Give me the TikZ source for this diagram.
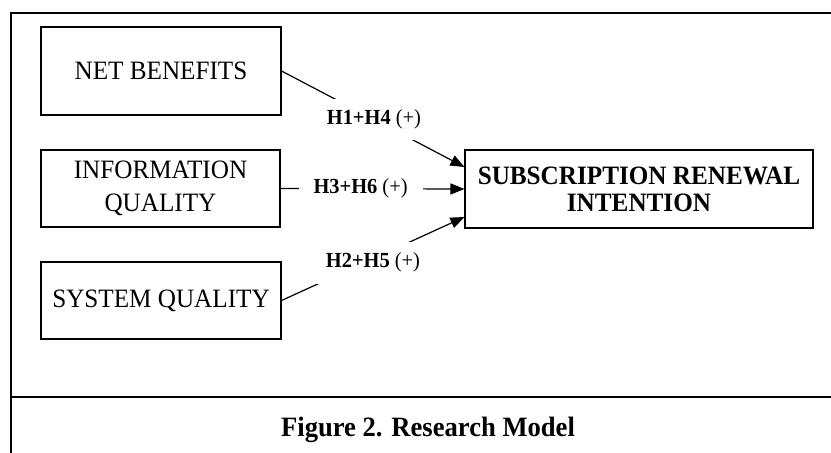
\documentclass[tikz,border=0pt]{standalone}
\usepackage{fontspec}
\setmainfont{Liberation Serif}[FakeStretch=0.95]
\usetikzlibrary{arrows.meta,calc}
\begin{document}
\begin{tikzpicture}[x=1pt,y=-1pt,
  frame/.style={line width=1.9pt},
  box/.style={draw, line width=1.1pt, inner sep=0pt, align=center,
    font=\fontsize{26.5}{33}\selectfont},
  hyp/.style={fill=white, inner xsep=15pt, inner ysep=11pt,
    font=\fontsize{21.5}{24}\selectfont},
  link/.style={line width=1.2pt},
  arrowlink/.style={link, -{Triangle[length=14pt,width=11pt]}}]
  \useasboundingbox (0,0) rectangle (831,453);

  % outer frame and caption separator
  \draw[frame] (11,460) -- (11,13) -- (840,13);
  \draw[frame] (11,397) -- (840,397);

  % constructs
  \node[box, minimum width=240pt, minimum height=88pt] (nb) at (161,71) {NET BENEFITS};
  \node[box, minimum width=239pt, minimum height=77pt] (iq) at (160.5,188.5) {INFORMATION\\QUALITY};
  \node[box, minimum width=240pt, minimum height=77pt] (sq) at (161,300.5) {SYSTEM QUALITY};
  \node[box, minimum width=348pt, minimum height=78pt,
    font=\fontsize{26.5}{27}\selectfont\bfseries] (sr) at (639,189) {SUBSCRIPTION RENEWAL\\INTENTION};

  % arrow end points on the outcome box
  \coordinate (srA) at ($(sr.west)+(0,-22)$);
  \coordinate (srC) at ($(sr.west)+(0,28)$);

  % hypothesised paths
  \draw[arrowlink] (nb.east) -- (srA)
    node[hyp, pos=0.505] (h14) {\textbf{H1+H4} (+)};
  \draw[arrowlink] (iq.east) -- (sr.west)
    node[hyp, pos=0.435] (h36) {\textbf{H3+H6} (+)};
  \draw[arrowlink] (sq.east) -- (srC)
    node[hyp, pos=0.5, yshift=-4pt] (h25) {\textbf{H2+H5} (+)};

  % caption
  \node[font=\fontsize{28}{32}\selectfont\bfseries] (cap) at (428,430) {Figure 2. Research Model};
\end{tikzpicture}
\end{document}
